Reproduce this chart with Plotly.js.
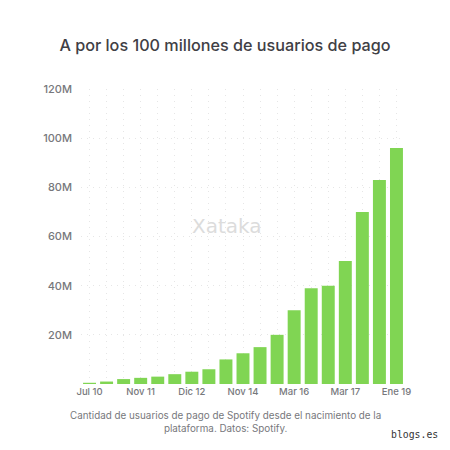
<!DOCTYPE html>
<html>
<head>
<meta charset="utf-8">
<script src="https://cdn.plot.ly/plotly-3.0.1.min.js"></script>
<style>html,body{margin:0;padding:0;background:#fff}#c{width:450px;height:450px}</style>
</head>
<body>
<div id="c"></div>
<script>
const periods = ["Jul 10","","","Nov 11","","","Dic 12","","","Nov 14","","","Mar 16","","","Mar 17","","","Ene 19"];
const subscribers = [0.5,1,2,2.5,3,4,5,6,10,12.5,15,20,30,39,40,50,70,83,96];
const yTicks = [20,40,60,80,100,120];
const yLabels = ["20M","40M","60M","80M","100M","120M"];
const titleText = "A por los 100 millones de usuarios de pago";
const captionText = "Cantidad de usuarios de pago de Spotify desde el nacimiento de la<br>plataforma. Datos: Spotify.";
const xIndex = periods.map((_, i) => i);
const font = "Inter, 'Noto Sans', sans-serif";

Plotly.newPlot("c", [{
  type: "bar",
  x: xIndex,
  y: subscribers,
  marker: {color: "#80d553", line: {width: 0}},
  hoverinfo: "skip"
}], {
  width: 450, height: 450,
  margin: {l: 80.8, r: 45, t: 89, b: 66},
  paper_bgcolor: "#fff", plot_bgcolor: "#fff",
  bargap: 0.24,
  showlegend: false,
  title: {text: titleText, x: 0.5, xanchor: "center", y: 0.9, yanchor: "middle",
          font: {family: font, size: 16.2, color: "#3f4045", weight: 500}},
  xaxis: {
    range: [-0.5, 18.5], tickmode: "array", tickvals: xIndex, ticktext: periods,
    showgrid: true, gridcolor: "#e6e6e6", griddash: "1px,5px", gridwidth: 1,
    zeroline: false, showline: false, ticks: "",
    tickangle: 0, ticklabeloverflow: "allow",
    tickfont: {family: font, size: 9.5, color: "#77787c", weight: 500}
  },
  yaxis: {
    range: [0, 120], tickmode: "array", tickvals: yTicks, ticktext: yLabels,
    showgrid: true, gridcolor: "#e6e6e6", griddash: "1px,5px", gridwidth: 1,
    zeroline: false, showline: false, ticks: "", ticklabelstandoff: 8,
    tickfont: {family: font, size: 11, color: "#77787c", weight: 500}
  },
  annotations: [
    {text: captionText, xref: "paper", yref: "paper", x: 0.5, xshift: -18, y: 0, yshift: -23, yanchor: "top", xanchor: "center",
     showarrow: false, align: "center", font: {family: font, size: 9.85, color: "#77787c"}},
    {text: "Xataka", xref: "paper", yref: "paper", x: 0.451, y: 0.536, xanchor: "center", yanchor: "middle",
     showarrow: false, font: {family: "'DejaVu Sans', sans-serif", size: 20, color: "#dcdcdc"}},
    {text: "blogs.es", xref: "paper", yref: "paper", x: 1, xshift: 35, y: 0, yshift: -50, xanchor: "right", yanchor: "middle",
     showarrow: false, font: {family: "'DejaVu Sans Mono', monospace", size: 9.8, color: "#333"}}
  ]
}, {displayModeBar: false, staticPlot: true});
</script>
</body>
</html>
